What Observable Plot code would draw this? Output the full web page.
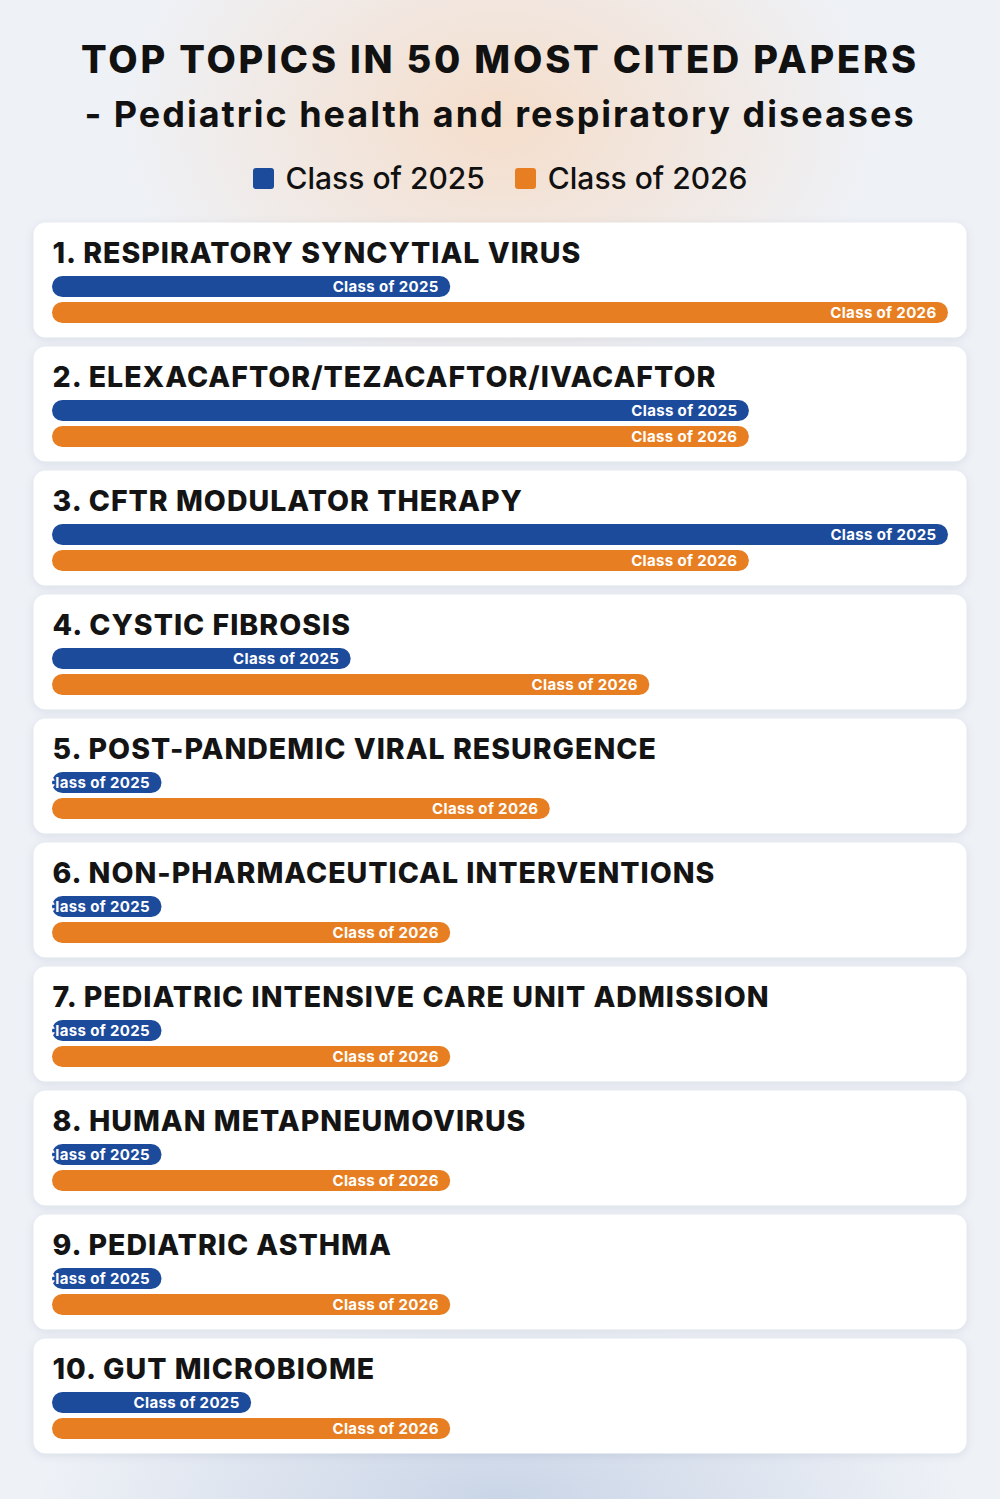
<!DOCTYPE html>
<html>
<head>
<meta charset="utf-8">
<script src="https://cdn.jsdelivr.net/npm/d3@7"></script>
<script src="https://cdn.jsdelivr.net/npm/@observablehq/plot@0.6"></script>
<style>
  html, body { margin: 0; padding: 0; }
  body {
    width: 1000px; height: 1499px; overflow: hidden; position: relative;
    font-family: Inter, "Open Sans", sans-serif;
    background:
      radial-gradient(ellipse 380px 260px at 50% 8%, rgba(246,218,195,0.85), rgba(246,218,195,0) 100%),
      radial-gradient(ellipse 460px 180px at 50% 100%, rgba(195,208,228,0.85), rgba(195,208,228,0) 100%),
      #eef1f6;
  }
  #header { position: absolute; left: 0; top: 0; width: 1000px; height: 222px; text-align: center; color: #111; }
  #t1 { position: absolute; left: 0; right: 0; top: 33px; font-size: 38px; font-weight: 800; line-height: 52px; letter-spacing: 2.8px; }
  #t2 { position: absolute; left: 0; right: 0; top: 88px; font-size: 36px; font-weight: 700; line-height: 52px; letter-spacing: 2px; }
  #legend { position: absolute; left: 0; right: 0; top: 158px; display: flex; justify-content: center; gap: 30px; font-size: 30px; font-weight: 500; line-height: 40px; }
  #legend span.item { display: flex; align-items: center; gap: 12px; }
  #legend span.sw { width: 21px; height: 21px; border-radius: 3px; display: inline-block; }
  #chart { position: absolute; left: 0; top: 222px; }
  #chart g[aria-label="frame"] rect { filter: drop-shadow(0 2px 4px rgba(40,60,100,0.10)); }
</style>
</head>
<body>
<div id="header">
  <div id="t1">TOP TOPICS IN 50 MOST CITED PAPERS</div>
  <div id="t2">- Pediatric health and respiratory diseases</div>
  <div id="legend"></div>
</div>
<div id="chart"></div>
<script>
// ---- data ----
const topics = [
  "RESPIRATORY SYNCYTIAL VIRUS",
  "ELEXACAFTOR/TEZACAFTOR/IVACAFTOR",
  "CFTR MODULATOR THERAPY",
  "CYSTIC FIBROSIS",
  "POST-PANDEMIC VIRAL RESURGENCE",
  "NON-PHARMACEUTICAL INTERVENTIONS",
  "PEDIATRIC INTENSIVE CARE UNIT ADMISSION",
  "HUMAN METAPNEUMOVIRUS",
  "PEDIATRIC ASTHMA",
  "GUT MICROBIOME"
];
const classes = ["Class of 2025", "Class of 2026"];
const class2025 = [4, 7, 9, 3, 1, 1, 1, 1, 1, 2];
const class2026 = [9, 7, 7, 6, 5, 4, 4, 4, 4, 4];
const classColors = ["#1d4b9c", "#e77f22"];

// ---- build table ----
const titles = topics.map((t, i) => `${i + 1}. ${t}`);
const rows = [];
topics.forEach((t, i) => {
  rows.push({topic: titles[i], cls: classes[0], value: class2025[i]});
  rows.push({topic: titles[i], cls: classes[1], value: class2026[i]});
});
const xMax = d3.max(rows, d => d.value);
const minBar = 1.1; // bars keep a minimum length so the label fits
const barEnd = d => Math.max(d.value, minBar);

// legend
const legend = document.getElementById("legend");
classes.forEach((c, i) => {
  const it = document.createElement("span");
  it.className = "item";
  it.innerHTML = `<span class="sw" style="background:${classColors[i]}"></span><span>${c}</span>`;
  legend.appendChild(it);
});

const chart = Plot.plot({
  width: 1000,
  height: 1231,
  marginTop: 0, marginBottom: 0, marginLeft: 33, marginRight: 34,
  style: {background: "transparent", overflow: "visible"},
  x: {domain: [0, xMax], insetLeft: 19, insetRight: 18, axis: null},
  y: {domain: classes, axis: null, insetTop: 54, insetBottom: 14, paddingInner: 5 / 26, paddingOuter: 0},
  fy: {domain: titles, axis: null, paddingInner: 9 / 124, paddingOuter: 0},
  color: {domain: classes, range: classColors},
  marks: [
    Plot.frame({fill: "white", stroke: null, rx: 12}),
    Plot.text(titles, {
      fy: d => d, text: d => d, frameAnchor: "top-left", lineAnchor: "bottom", textAnchor: "start",
      dx: 19, dy: 40, fontSize: 28.5, fontWeight: 800, fill: "#141414",
      fontFamily: "Inter, sans-serif"
    }),
    Plot.barX(rows, {x1: 0, x2: barEnd, y: "cls", fy: "topic", fill: "cls", rx: 10.5}),
    Plot.text(rows, {
      x: barEnd, y: "cls", fy: "topic", text: "cls", textAnchor: "end", dx: -12,
      fill: "white", fontSize: 15, fontWeight: 700, fontFamily: "Inter, sans-serif"
    })
  ]
});
// letter spacing for the two text marks (titles first, bar labels second)
const textGroups = chart.querySelectorAll('g[aria-label="text"]');
if (textGroups[0]) textGroups[0].style.letterSpacing = "1px";
if (textGroups[1]) textGroups[1].style.letterSpacing = "0.35px";
document.getElementById("chart").appendChild(chart);
</script>
</body>
</html>
